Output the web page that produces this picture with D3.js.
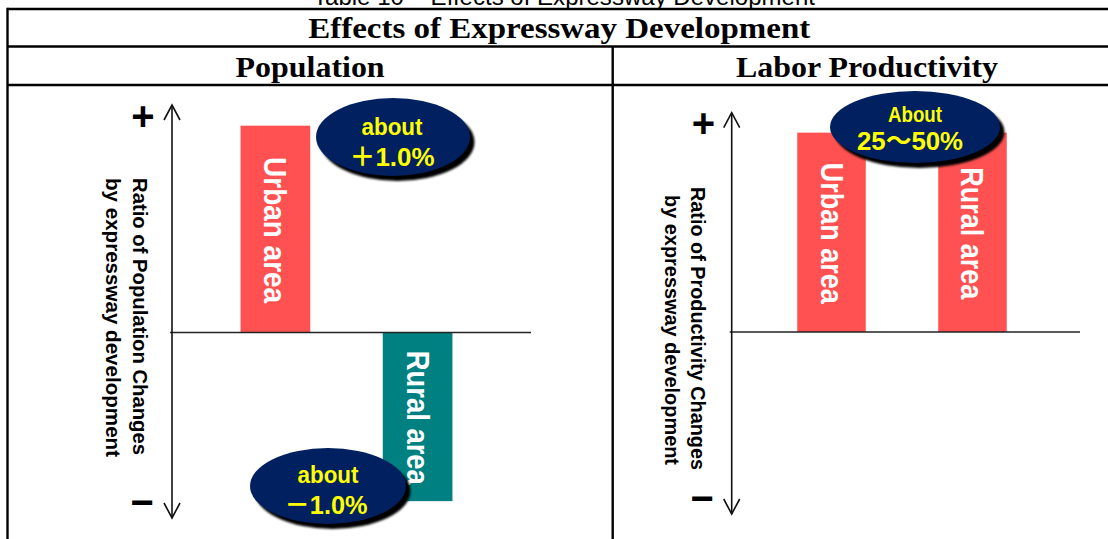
<!DOCTYPE html>
<html>
<head>
<meta charset="utf-8">
<script src="https://cdn.jsdelivr.net/npm/d3@7"></script>
<style>
  body { margin: 0; background: #fff; }
  svg { display: block; }
</style>
</head>
<body>
<script>
// ---------- data ----------
const caption = "Table 10 – Effects of Expressway Development";
const tableTitle = "Effects of Expressway Development";
const panelTitles = ["Population", "Labor Productivity"];
const areaCategories = ["Urban area", "Rural area"];
const populationChange = [1.0, -1.0];          // % change in population
const productivityChange = [50, 50];           // % change in labor productivity (upper end of range)
const populationAxisLabel = ["Ratio of Population Changes", "by expressway development"];
const productivityAxisLabel = ["Ratio of Productivity Changes", "by expressway development"];
const axisEndLabels = ["+", "\u2212"];
const populationNotes = [["about", "\uFF0B1.0%"], ["about", "\uFF0D1.0%"]];
const productivityNote = ["About", "25\uFF5E50%"];

// ---------- layout ----------
const W = 1108, H = 539;
const sans = "'Liberation Sans', Arial, 'Noto Sans CJK JP', sans-serif";
const serif = "'Liberation Serif', 'Times New Roman', serif";
const RED = "#FF5151", TEAL = "#008080", NAVY = "#00205F", YELLOW = "#FFFF00";

const svg = d3.select("body").append("svg")
  .attr("width", W).attr("height", H)
  .attr("viewBox", `0 0 ${W} ${H}`);

const defs = svg.append("defs");
defs.append("filter").attr("id", "soft")
  .attr("x", "-10%").attr("y", "-10%").attr("width", "120%").attr("height", "130%")
  .append("feGaussianBlur").attr("stdDeviation", 0.9);

// ---------- table frame ----------
const tableLeft = 7.5, tableRight = 1125, divider = 612.7;
const rowLines = [9, 46.5, 85];

svg.append("text")
  .attr("x", 564).attr("y", 5)
  .attr("text-anchor", "middle")
  .attr("font-family", sans).attr("font-size", 23)
  .attr("textLength", 502).attr("lengthAdjust", "spacingAndGlyphs")
  .text(caption);

const frame = svg.append("g").attr("stroke", "#000").attr("stroke-width", 2.4).attr("fill", "none");
rowLines.forEach(y => frame.append("line").attr("x1", tableLeft).attr("x2", tableRight).attr("y1", y).attr("y2", y));
frame.append("line").attr("x1", tableLeft).attr("x2", tableLeft).attr("y1", rowLines[0] - 1.2).attr("y2", H);
frame.append("line").attr("x1", divider).attr("x2", divider).attr("y1", rowLines[1]).attr("y2", H);

svg.append("text")
  .attr("x", (tableLeft + tableRight) / 2 - 7).attr("y", 38)
  .attr("text-anchor", "middle")
  .attr("font-family", serif).attr("font-weight", "bold").attr("font-size", 29)
  .attr("textLength", 502).attr("lengthAdjust", "spacingAndGlyphs")
  .text(tableTitle);

const panelCenters = [(tableLeft + divider) / 2, 867];
const panelTitleWidths = [149, 262];
panelTitles.forEach((t, i) => {
  svg.append("text")
    .attr("x", panelCenters[i]).attr("y", 77)
    .attr("text-anchor", "middle")
    .attr("font-family", serif).attr("font-weight", "bold").attr("font-size", 29)
    .attr("textLength", panelTitleWidths[i]).attr("lengthAdjust", "spacingAndGlyphs")
    .text(t);
});

// ---------- panel drawing ----------
function drawPanel(cfg) {
  const g = svg.append("g");

  const x = d3.scaleBand()
    .domain(areaCategories)
    .range(cfg.xRange)
    .paddingInner(cfg.paddingInner)
    .paddingOuter(cfg.paddingOuter);

  const y = d3.scaleLinear().domain(cfg.yDomain).range(cfg.yRange);
  const axisX = cfg.axisX;
  const yTop = y(cfg.yDomain[cfg.yDomain.length - 1]);
  const yBottom = y(cfg.yDomain[0]);

  // bars
  g.selectAll("rect.bar")
    .data(cfg.values)
    .join("rect")
    .attr("class", "bar")
    .attr("x", (d, i) => x(areaCategories[i]))
    .attr("width", x.bandwidth())
    .attr("y", d => y(Math.max(0, d)))
    .attr("height", d => Math.abs(y(d) - y(0)))
    .attr("fill", (d, i) => cfg.colors[i]);

  // zero line
  g.append("line")
    .attr("x1", axisX - 2).attr("x2", cfg.zeroLineEnd)
    .attr("y1", y(0)).attr("y2", y(0))
    .attr("stroke", "#222").attr("stroke-width", 1.6);

  // vertical double-headed axis with open arrow heads
  const ax = g.append("g").attr("stroke", "#111").attr("stroke-width", 1.6).attr("fill", "none");
  ax.append("line").attr("x1", axisX).attr("x2", axisX).attr("y1", yTop).attr("y2", yBottom);
  ax.append("path").attr("d", `M${axisX - 8},${yTop + 15}L${axisX},${yTop}L${axisX + 8},${yTop + 15}`);
  ax.append("path").attr("d", `M${axisX - 8},${yBottom - 15}L${axisX},${yBottom}L${axisX + 8},${yBottom - 15}`);

  // + / − end marks
  const fs = 40;
  g.append("text")
    .attr("x", cfg.plusPos[0]).attr("y", cfg.plusPos[1] + 0.33 * fs)
    .attr("text-anchor", "middle")
    .attr("font-family", sans).attr("font-weight", "bold").attr("font-size", fs)
    .text(axisEndLabels[0]);
  g.append("text")
    .attr("x", cfg.minusPos[0]).attr("y", cfg.minusPos[1] + 0.33 * fs)
    .attr("text-anchor", "middle")
    .attr("font-family", sans).attr("font-weight", "bold").attr("font-size", fs)
    .text(axisEndLabels[1]);

  // rotated axis title (two lines)
  cfg.axisLabel.forEach((line, i) => {
    g.append("text")
      .attr("transform", `translate(${cfg.labelBaselines[i]},${cfg.labelCenters[i]}) rotate(90)`)
      .attr("text-anchor", "middle")
      .attr("font-family", sans).attr("font-weight", "bold").attr("font-size", 21)
      .attr("textLength", cfg.labelLengths[i]).attr("lengthAdjust", "spacingAndGlyphs")
      .text(line);
  });

  // rotated category names inside the bars
  g.selectAll("text.cat")
    .data(cfg.values)
    .join("text")
    .attr("class", "cat")
    .attr("transform", (d, i) => {
      const cx = x(areaCategories[i]) + x.bandwidth() / 2 - 11;
      const cy = (y(d) + y(0)) / 2 + 1;
      return `translate(${cx},${cy}) rotate(90)`;
    })
    .attr("text-anchor", "middle")
    .attr("fill", "#fff")
    .attr("font-family", sans).attr("font-weight", "bold").attr("font-size", 31)
    .attr("textLength", (d, i) => cfg.catLengths[i]).attr("lengthAdjust", "spacingAndGlyphs")
    .text((d, i) => areaCategories[i]);

  return g;
}

function drawNote(cx, cy, rx, ry, lines, lineStyles) {
  const g = svg.append("g");
  g.append("ellipse")
    .attr("cx", cx + 4.5).attr("cy", cy + 5).attr("rx", rx).attr("ry", ry)
    .attr("fill", "#000").attr("filter", "url(#soft)");
  g.append("ellipse")
    .attr("cx", cx).attr("cy", cy).attr("rx", rx).attr("ry", ry)
    .attr("fill", NAVY);
  lines.forEach((t, i) => {
    const s = lineStyles[i];
    g.append("text")
      .attr("x", cx + s.dx).attr("y", cy + s.dy)
      .attr("text-anchor", "middle")
      .attr("fill", YELLOW)
      .attr("font-family", sans).attr("font-weight", "bold").attr("font-size", s.size)
      .attr("textLength", s.len).attr("lengthAdjust", "spacingAndGlyphs")
      .text(t);
  });
}

// Population panel
drawPanel({
  values: populationChange,
  colors: [RED, TEAL],
  xRange: [205, 488], paddingInner: 0.51, paddingOuter: 0.25,
  yDomain: [-1.1, 0, 1.1], yRange: [518, 332.5, 105],
  axisX: 172, zeroLineEnd: 531,
  plusPos: [143, 116.5], minusPos: [142, 503],
  axisLabel: populationAxisLabel,
  labelBaselines: [133, 106], labelCenters: [316.5, 317.5], labelLengths: [277, 279],
  catLengths: [146, 134]
});

// Labor productivity panel
drawPanel({
  values: productivityChange,
  colors: [RED, RED],
  xRange: [762, 1042], paddingInner: 0.514, paddingOuter: 0.25,
  yDomain: [-45.5, 0, 55], yRange: [514, 332, 112.7],
  axisX: 731.7, zeroLineEnd: 1080,
  plusPos: [703.5, 123.5], minusPos: [702, 499],
  axisLabel: productivityAxisLabel,
  labelBaselines: [691, 665], labelCenters: [328.5, 330], labelLengths: [283, 270],
  catLengths: [141, 132]
});

// value callouts
drawNote(393, 137, 77, 39, populationNotes[0], [
  { dx: -1, dy: -2, size: 24, len: 61 },
  { dx: -1, dy: 29, size: 26, len: 85 }
]);
drawNote(328, 486, 78, 38, populationNotes[1], [
  { dx: 0, dy: -3, size: 24, len: 61 },
  { dx: -2, dy: 28, size: 26, len: 83 }
]);
drawNote(915, 127, 85, 36, productivityNote, [
  { dx: 0, dy: -5, size: 22, len: 54 },
  { dx: -5, dy: 23, size: 26, len: 106 }
]);
</script>
</body>
</html>
